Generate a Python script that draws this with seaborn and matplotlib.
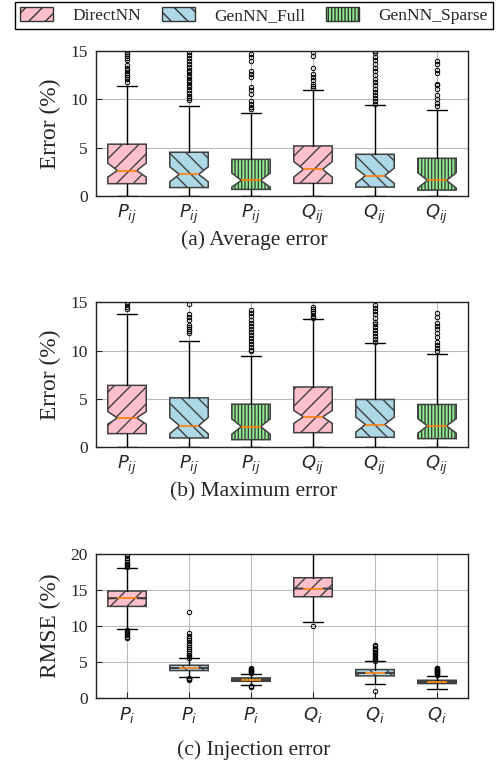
import matplotlib
matplotlib.use("Agg")
import matplotlib.pyplot as plt
from matplotlib.patches import Patch
import seaborn as sns

sns.set_style("ticks")
plt.rcParams['font.family'] = ['Liberation Serif', 'DejaVu Serif']
plt.rcParams['mathtext.fontset'] = 'dejavusans'
plt.rcParams['hatch.linewidth'] = 1.0

# ---------------- data ----------------
methods = ["DirectNN", "GenNN_Full", "GenNN_Sparse"]
colors = ["pink", "lightblue", "lightgreen"]
hatches = ["//", "\\\\", "|||||"]

labels_ab = [r"$P_{ij}$", r"$P_{ij}$", r"$P_{ij}$", r"$Q_{ij}$", r"$Q_{ij}$", r"$Q_{ij}$"]
labels_c = [r"$P_i$", r"$P_i$", r"$P_i$", r"$Q_i$", r"$Q_i$", r"$Q_i$"]

# (a) Average error
avg_q1 = [1.28, 0.88, 0.69, 1.31, 0.93, 0.62]
avg_med = [2.63, 2.24, 1.62, 2.76, 2.10, 1.62]
avg_q3 = [5.35, 4.52, 3.79, 5.17, 4.31, 3.90]
avg_lo = [0.0, 0.0, 0.0, 0.0, 0.0, 0.0]
avg_hi = [11.37, 9.24, 8.55, 10.89, 9.38, 8.83]
avg_cilo = [1.95, 1.48, 0.92, 1.96, 1.31, 0.82]
avg_cihi = [3.40, 3.02, 2.38, 3.56, 2.88, 2.42]
avg_fliers = [
    [11.8, 12.1, 12.3, 12.5, 12.7, 13.0, 13.2, 13.5, 14.0, 14.2, 14.4, 14.6, 14.9],
    [9.9, 10.1, 10.3, 10.6, 10.9, 11.2, 11.5, 11.8, 12.0, 12.3, 12.5, 12.8, 13.0,
     13.3, 13.6, 13.9, 14.2, 14.5, 14.8],
    [9.0, 9.2, 9.5, 9.8, 10.5, 10.9, 11.2, 12.3, 12.6, 12.9, 13.9, 14.3, 14.6],
    [11.1, 11.3, 11.6, 12.0, 12.3, 12.6, 13.2, 14.4, 14.9],
    [9.5, 9.8, 10.1, 10.4, 10.7, 11.0, 11.4, 11.8, 12.1, 12.5, 12.9, 13.2, 13.6,
     14.0, 14.3, 14.7, 15.0],
    [9.3, 9.6, 10.0, 10.4, 11.0, 11.4, 11.6, 12.7, 13.0, 13.6, 13.9],
]

# (b) Maximum error
max_q1 = [1.39, 0.94, 0.76, 1.49, 1.01, 0.87]
max_med = [3.02, 2.22, 2.12, 3.13, 2.33, 2.19]
max_q3 = [6.39, 5.10, 4.44, 6.22, 4.93, 4.41]
max_lo = [0.0, 0.0, 0.0, 0.0, 0.0, 0.0]
max_hi = [13.80, 10.97, 9.41, 13.27, 10.80, 9.62]
max_cilo = [2.37, 1.37, 1.33, 2.45, 1.55, 1.43]
max_cihi = [3.67, 3.07, 2.91, 3.79, 3.11, 2.95]
max_fliers = [
    [14.3, 14.5, 14.8, 15.0],
    [11.8, 12.0, 12.2, 12.4, 12.6, 13.2, 13.5, 13.8, 14.8],
    [9.9, 10.1, 10.4, 10.7, 11.0, 11.3, 11.6, 11.9, 12.2, 12.5, 12.8, 13.2, 13.6, 13.9, 14.2],
    [13.4, 13.6, 13.9, 14.1, 14.3, 14.5],
    [10.9, 11.2, 11.5, 11.8, 12.1, 12.4, 12.7, 13.0, 13.4, 13.8, 14.1, 14.4, 14.7],
    [10.0, 10.3, 10.6, 10.9, 11.4, 11.8, 12.2, 12.5, 12.8, 13.5, 13.9],
]

# (c) Injection error
inj_q1 = [12.72, 3.81, 2.32, 14.06, 3.07, 2.00]
inj_med = [13.84, 4.20, 2.55, 15.20, 3.50, 2.20]
inj_q3 = [14.85, 4.55, 2.79, 16.70, 3.95, 2.46]
inj_lo = [9.60, 2.93, 1.77, 10.60, 2.00, 1.31]
inj_hi = [18.00, 5.52, 3.39, 20.50, 5.10, 3.07]
inj_cilo = [13.78, 4.18, 2.54, 15.14, 3.48, 2.19]
inj_cihi = [13.90, 4.22, 2.56, 15.26, 3.52, 2.21]
inj_fliers = [
    [18.2, 18.4, 18.6, 18.9, 19.2, 19.5, 19.8, 20.0, 9.4, 9.2, 9.0, 8.8, 8.5, 8.3],
    [5.6, 5.8, 6.0, 6.2, 6.5, 6.8, 7.1, 7.4, 7.7, 8.0, 8.3, 8.6, 9.0, 12.0,
     2.8, 2.7, 2.6, 2.5],
    [3.5, 3.6, 3.7, 3.8, 3.9, 4.0, 4.1, 1.7, 1.6, 1.5],
    [9.93],
    [5.2, 5.4, 5.6, 5.8, 6.0, 6.2, 6.4, 6.6, 6.8, 7.0, 7.2, 7.4, 1.0],
    [3.2, 3.3, 3.4, 3.5, 3.6, 3.7, 3.8, 3.9, 4.0, 4.1, 4.2],
]

# ---------------- figure ----------------
fig = plt.figure(figsize=(4.98, 7.66), dpi=100)

L, W = 0.1928, 0.7470
axes_rects = [
    [L, 0.744, W, 0.190],
    [L, 0.4164, W, 0.1890],
    [L, 0.0888, W, 0.1880],
]

panels = [
    (avg_q1, avg_med, avg_q3, avg_lo, avg_hi, avg_cilo, avg_cihi, avg_fliers,
     labels_ab, "Error (%)", 15, [0, 5, 10, 15], "(a) Average error", 0.6867),
    (max_q1, max_med, max_q3, max_lo, max_hi, max_cilo, max_cihi, max_fliers,
     labels_ab, "Error (%)", 15, [0, 5, 10, 15], "(b) Maximum error", 0.3581),
    (inj_q1, inj_med, inj_q3, inj_lo, inj_hi, inj_cilo, inj_cihi, inj_fliers,
     labels_c, "RMSE (%)", 20, [0, 5, 10, 15, 20], "(c) Injection error", 0.0209),
]

for rect, p in zip(axes_rects, panels):
    q1, med, q3, lo, hi, cilo, cihi, fl, labs, ylab, ymax, yt, cap, capy = p
    ax = fig.add_axes(rect)
    stats = []
    for i in range(6):
        stats.append(dict(q1=q1[i], med=med[i], q3=q3[i], whislo=lo[i], whishi=hi[i],
                          cilo=cilo[i], cihi=cihi[i], fliers=fl[i]))
    bp = ax.bxp(stats, positions=range(1, 7), widths=0.62, shownotches=True,
                patch_artist=True,
                boxprops=dict(edgecolor="#404040", linewidth=1.1),
                whiskerprops=dict(color="black", linewidth=1.0),
                capprops=dict(color="black", linewidth=1.0),
                medianprops=dict(color="#ff7f0e", linewidth=1.2),
                flierprops=dict(marker="o", markersize=3.2, markerfacecolor="none",
                                markeredgecolor="black", markeredgewidth=0.7))
    for i, box in enumerate(bp["boxes"]):
        box.set_facecolor(colors[i % 3])
        box.set_hatch(hatches[i % 3])
    ax.set_xlim(0.5, 6.5)
    ax.set_ylim(0, ymax)
    ax.set_yticks(yt)
    ax.set_xticks(range(1, 7))
    ax.set_xticklabels(labs, fontsize=13)
    ax.tick_params(axis="y", labelsize=12.5, direction="in", length=4, pad=6)
    ax.tick_params(axis="x", direction="in", length=4, pad=5)
    ax.set_ylabel(ylab, fontsize=16.8, labelpad=7)
    ax.grid(True, color="#bbbbbb", linewidth=0.8)
    ax.set_axisbelow(True)
    for s in ax.spines.values():
        s.set_color("#222222")
        s.set_linewidth(1.0)
    fig.text(0.51, capy, cap, ha="center", va="center", fontsize=15.5)

handles = [Patch(facecolor=colors[i], edgecolor="#333333", hatch=hatches[i], label=methods[i])
           for i in range(3)]
fig.legend(handles=handles, loc="upper left", ncol=3, mode="expand",
           bbox_to_anchor=(0.030, 0.9975, 0.960, 0.0001), fontsize=12.5,
           frameon=True, fancybox=False, edgecolor="black", framealpha=1,
           handlelength=1.9, handleheight=0.9, borderaxespad=0, borderpad=0.3,
           columnspacing=1.0, handletextpad=1.1)

fig.savefig("out.png", dpi=100)
